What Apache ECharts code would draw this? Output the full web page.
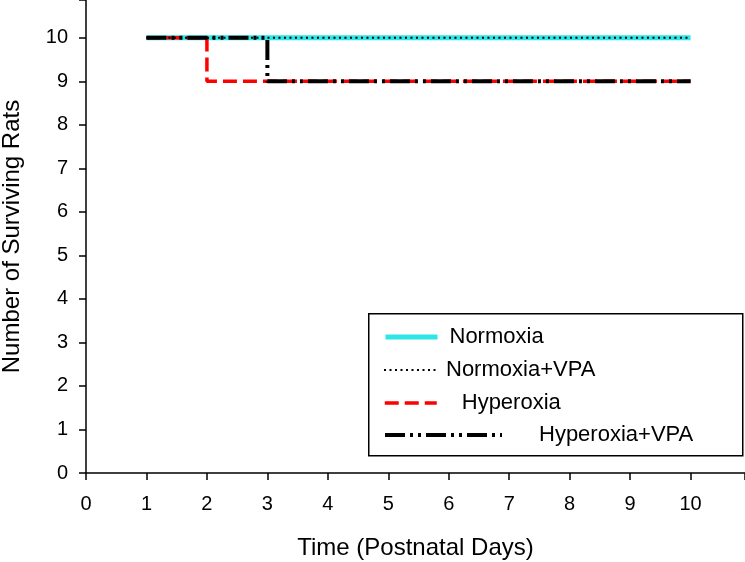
<!DOCTYPE html>
<html>
<head>
<meta charset="utf-8">
<script src="https://cdn.jsdelivr.net/npm/echarts@6/dist/echarts.min.js"></script>
<style>html,body{margin:0;padding:0;background:#fff}#c{width:745px;height:562px}</style>
</head>
<body>
<div id="c"></div>
<script>
const days = [1, 2, 3, 4, 5, 6, 7, 8, 9, 10];
const normoxia = [10, 10, 10, 10, 10, 10, 10, 10, 10, 10];
const normoxiaVPA = [10, 10, 10, 10, 10, 10, 10, 10, 10, 10];
const hyperoxia = [10, 9, 9, 9, 9, 9, 9, 9, 9, 9];
const hyperoxiaVPA = [10, 10, 9, 9, 9, 9, 9, 9, 9, 9];
const seriesNames = ['Normoxia', 'Normoxia+VPA', 'Hyperoxia', 'Hyperoxia+VPA'];
const xTicks = [0, 1, 2, 3, 4, 5, 6, 7, 8, 9, 10];
const yTicks = [0, 1, 2, 3, 4, 5, 6, 7, 8, 9, 10];

const pair = arr => days.map((d, i) => [d, arr[i]]);
const FONT = 'Liberation Sans, Arial, sans-serif';

const styles = [
  {color: '#2ee6e6', width: 5, type: 'solid'},
  {color: '#000', width: 2, type: [2, 3.5]},
  {color: '#ff0000', width: 3.5, type: [14, 6]},
  {color: '#000', width: 4, type: [20, 5, 3, 5, 3, 5]}
];

const chart = echarts.init(document.getElementById('c'), null, {renderer: 'canvas'});
const legendStyles = [
  {center: 337, textLeft: 447, width: 52},
  {center: 370, textLeft: 445, width: 52},
  {center: 403, textLeft: 460, width: 52},
  {center: 435, textLeft: 537, width: 117}
];
chart.setOption({
  animation: false,
  backgroundColor: '#fff',
  grid: {left: 86, right: 0, top: 0, bottom: 89, containLabel: false, outerBoundsMode: 'none'},
  xAxis: {
    type: 'value', min: 0, max: 10.9, interval: 1,
    name: 'Time (Postnatal Days)', nameLocation: 'middle', nameGap: 63,
    nameTextStyle: {fontFamily: FONT, fontSize: 24, color: '#000'},
    axisLine: {show: true, onZero: false, lineStyle: {color: '#000', width: 1.5}},
    axisTick: {show: true, inside: false, length: 7, lineStyle: {color: '#000', width: 1.5}},
    axisLabel: {fontFamily: FONT, fontSize: 20, color: '#000', margin: 21,
      formatter: v => xTicks.indexOf(v) >= 0 ? String(v) : ''},
    splitLine: {show: false}
  },
  yAxis: {
    type: 'value', min: 0, max: 10.87, interval: 1,
    name: 'Number of Surviving Rats', nameLocation: 'middle', nameGap: 62,
    nameTextStyle: {fontFamily: FONT, fontSize: 24, color: '#000'},
    axisLine: {show: true, onZero: false, lineStyle: {color: '#000', width: 1.5}},
    axisTick: {show: true, inside: false, length: 7, lineStyle: {color: '#000', width: 1.5}},
    axisLabel: {fontFamily: FONT, fontSize: 20, color: '#000', margin: 18,
      formatter: v => yTicks.indexOf(v) >= 0 ? String(v) : ''},
    splitLine: {show: false}
  },
  graphic: [{
    type: 'rect', left: 368, top: 313, silent: true,
    shape: {width: 374, height: 142},
    style: {fill: '#fff', stroke: '#000', lineWidth: 1.5}
  }],
  legend: seriesNames.map((n, i) => ({
    data: [n], left: 383, top: legendStyles[i].center - 12, orient: 'horizontal',
    itemWidth: legendStyles[i].width, itemHeight: 14,
    itemGap: 0, padding: 0, selectedMode: false,
    itemStyle: {opacity: 0},
    lineStyle: {color: styles[i].color, width: styles[i].width, type: styles[i].type},
    textStyle: {fontFamily: FONT, fontSize: 22, lineHeight: 24, color: '#000',
      padding: [0, 0, 0, legendStyles[i].textLeft - 383 - legendStyles[i].width - 5]}
  })),
  series: [
    {name: seriesNames[0], type: 'line', data: pair(normoxia), symbol: 'none', z: 1,
      lineStyle: styles[0], itemStyle: {color: styles[0].color}},
    {name: seriesNames[2], type: 'line', data: pair(hyperoxia), step: 'end', symbol: 'none', z: 2,
      lineStyle: styles[2], itemStyle: {color: styles[2].color}},
    {name: seriesNames[3], type: 'line', data: pair(hyperoxiaVPA), step: 'end', symbol: 'none', z: 3,
      lineStyle: styles[3], itemStyle: {color: styles[3].color}},
    {name: seriesNames[1], type: 'line', data: pair(normoxiaVPA), symbol: 'none', z: 4,
      lineStyle: styles[1], itemStyle: {color: styles[1].color}}
  ]
});
</script>
</body>
</html>
